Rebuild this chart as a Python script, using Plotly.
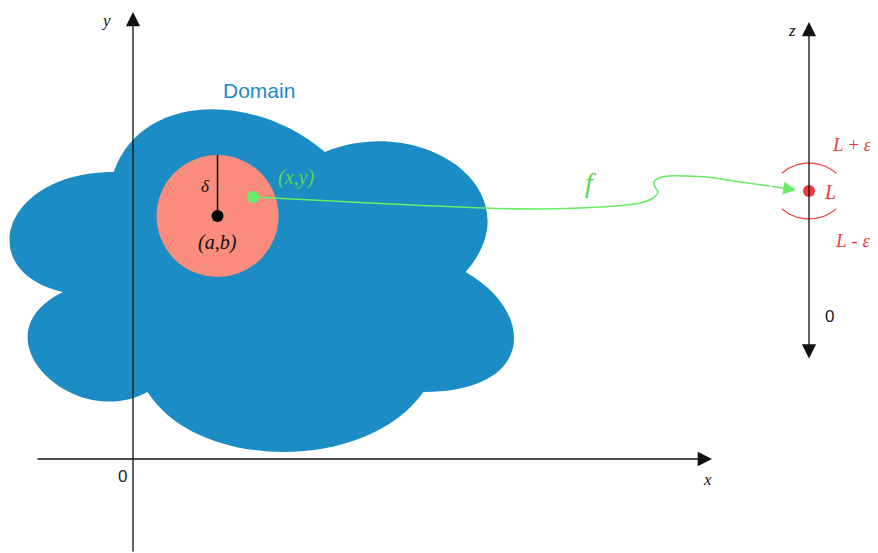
import numpy as np
import plotly.graph_objects as go

# ---------------- diagram values (plane units; origin = where x and y axes cross) -------------
# Domain cloud: bounding box (left, top, width, height)
domain_box = [-160, 387, 563, 400]
# cloud outline as bezier segments in box fractions (start point + 6 cubic segments)
cloud_start = [0.25, 0.25]
cloud_segments = [
    [0.05, 0.25, 0.0, 0.5, 0.16, 0.55],
    [0.0, 0.66, 0.18, 0.9, 0.31, 0.8],
    [0.4, 1.0, 0.7, 1.0, 0.8, 0.8],
    [1.0, 0.8, 1.0, 0.6, 0.875, 0.5],
    [1.0, 0.3, 0.8, 0.1, 0.625, 0.2],
    [0.5, 0.05, 0.3, 0.05, 0.25, 0.25],
]
center_ab = [84.5, 243]      # (a,b)
delta = 61                   # neighbourhood radius
point_xy = [120, 262]        # (x,y)
# mapping curve f from (x,y) to L
f_curve_x = [120, 237, 350, 407, 467, 507, 520, 525, 522, 521, 526, 535, 574, 607, 637]
f_curve_y = [262, 256, 251, 250, 252, 256, 261, 267, 272, 277, 281, 283, 282, 277, 273]
f_arrow_tip = [663, 269]
L_point = [676, 268]
eps_gap = 28                 # distance from L to the apex of each epsilon arc
eps_arc_radius = 41.5
eps_half_angle = 41          # degrees
x_axis = [-97, 579]          # along y = 0
y_axis = [-94, 447]          # along x = 0
z_axis_x = 676
z_axis = [99, 437]

labels = [
    # text, x, y, size, color, family
    ("Domain", 126, 369, 21, "#1b8cc4", "Liberation Sans"),
    ("<i>δ</i>", 72, 273, 17, "#111111", "Liberation Serif"),
    ("<i>(a,b)</i>", 84, 217, 20, "#111111", "Liberation Serif"),
    ("<i>(x,y)</i>", 163, 282, 20, "#5ad84f", "Liberation Serif"),
    ("<i>f</i>", 457, 277, 28, "#5ad84f", "Liberation Serif"),
    ("<i>y</i>", -27, 439, 17, "#111111", "Liberation Serif"),
    ("<i>x</i>", 574, -20, 17, "#111111", "Liberation Serif"),
    ("0", -11, -17, 17, "#222222", "Liberation Sans Narrow, Liberation Sans"),
    ("<i>z</i>", 659, 429, 17, "#111111", "Liberation Serif"),
    ("0", 696, 143, 17, "#222222", "Liberation Sans"),
    ("<i>L</i>", 697, 267, 20, "#f23b3b", "Liberation Serif"),
    ("<i>L</i> + <i>ε</i>", 719, 315, 19, "#f23b3b", "Liberation Serif"),
    ("<i>L</i> - <i>ε</i>", 719, 219, 19, "#f23b3b", "Liberation Serif"),
]

BLUE = "#1b8cc4"
SALMON = "#f98c7c"
GREEN = "#66ee66"
RED = "#f23b3b"
INK = "#111111"

# page offset of the plot div (browser body margin)
PAGE_OFFSET = 8
W, H = 878, 553

# ---------------- build figure ----------------
bx, by, bw, bh = domain_box


def pt(fx, fy):
    return f"{bx + fx * bw:.2f},{by - fy * bh:.2f}"


path = "M " + pt(*cloud_start)
for s in cloud_segments:
    path += " C " + pt(s[0], s[1]) + " " + pt(s[2], s[3]) + " " + pt(s[4], s[5])
path += " Z"

shapes = [
    dict(type="path", path=path, xref="x", yref="y", fillcolor=BLUE,
         line=dict(width=0), layer="below"),
    dict(type="circle", xref="x", yref="y",
         x0=center_ab[0] - delta, x1=center_ab[0] + delta,
         y0=center_ab[1] - delta, y1=center_ab[1] + delta,
         fillcolor=SALMON, line=dict(width=0), layer="below"),
]

fig = go.Figure()

# delta radius line
fig.add_trace(go.Scatter(x=[center_ab[0], center_ab[0]],
                         y=[center_ab[1], center_ab[1] + delta],
                         mode="lines", line=dict(color=INK, width=1.5),
                         hoverinfo="skip"))

# f curve
fig.add_trace(go.Scatter(x=f_curve_x, y=f_curve_y, mode="lines",
                         line=dict(color=GREEN, width=1.6, shape="spline", smoothing=0.8),
                         hoverinfo="skip"))

# epsilon arcs (circle arcs whose apex is eps_gap from L)
th = np.radians(np.linspace(-eps_half_angle, eps_half_angle, 40))
arc_x = L_point[0] + eps_arc_radius * np.sin(th)
drop = eps_arc_radius * (1 - np.cos(th))
fig.add_trace(go.Scatter(x=arc_x, y=L_point[1] + eps_gap - drop, mode="lines",
                         line=dict(color=RED, width=1.2), hoverinfo="skip"))
fig.add_trace(go.Scatter(x=arc_x, y=L_point[1] - eps_gap + drop, mode="lines",
                         line=dict(color=RED, width=1.2), hoverinfo="skip"))

# dots
fig.add_trace(go.Scatter(x=[center_ab[0]], y=[center_ab[1]], mode="markers",
                         marker=dict(color="#000000", size=12), hoverinfo="skip"))
fig.add_trace(go.Scatter(x=[point_xy[0]], y=[point_xy[1]], mode="markers",
                         marker=dict(color=GREEN, size=12), hoverinfo="skip"))
fig.add_trace(go.Scatter(x=[L_point[0]], y=[L_point[1]], mode="markers",
                         marker=dict(color=RED, size=12), hoverinfo="skip"))

annotations = []
# axes with arrowheads
annotations.append(dict(x=x_axis[1], y=0, ax=x_axis[0], ay=0, xref="x", yref="y",
                        axref="x", ayref="y", text="", showarrow=True, arrowhead=2,
                        arrowsize=2.2, arrowwidth=1.3, arrowcolor=INK, standoff=0))
annotations.append(dict(x=0, y=y_axis[1], ax=0, ay=y_axis[0], xref="x", yref="y",
                        axref="x", ayref="y", text="", showarrow=True, arrowhead=2,
                        arrowsize=2.2, arrowwidth=1.3, arrowcolor=INK, standoff=0))
annotations.append(dict(x=z_axis_x, y=z_axis[1], ax=z_axis_x, ay=z_axis[0], xref="x", yref="y",
                        axref="x", ayref="y", text="", showarrow=True, arrowhead=2,
                        arrowside="end+start", arrowsize=2.2, arrowwidth=1.3,
                        arrowcolor=INK, standoff=0, startstandoff=0))
# f arrow head
annotations.append(dict(x=f_arrow_tip[0], y=f_arrow_tip[1], ax=f_curve_x[-1], ay=f_curve_y[-1],
                        xref="x", yref="y", axref="x", ayref="y", text="", showarrow=True,
                        arrowhead=2, arrowsize=1.6, arrowwidth=1.6, arrowcolor=GREEN, standoff=0))

for t, x, y, s, c, fam in labels:
    annotations.append(dict(x=x, y=y, xref="x", yref="y", text=t, showarrow=False,
                            font=dict(size=s, color=c, family=fam),
                            xanchor="center", yanchor="middle"))

fig.update_layout(
    width=W - PAGE_OFFSET, height=H - PAGE_OFFSET,
    margin=dict(l=0, r=0, t=0, b=0),
    paper_bgcolor="white", plot_bgcolor="white",
    showlegend=False,
    shapes=shapes,
    annotations=annotations,
    xaxis=dict(range=[-133 + PAGE_OFFSET, 745], visible=False, fixedrange=True),
    yaxis=dict(range=[-94, 459 - PAGE_OFFSET], visible=False, fixedrange=True),
)

fig.write_html("out.html")
